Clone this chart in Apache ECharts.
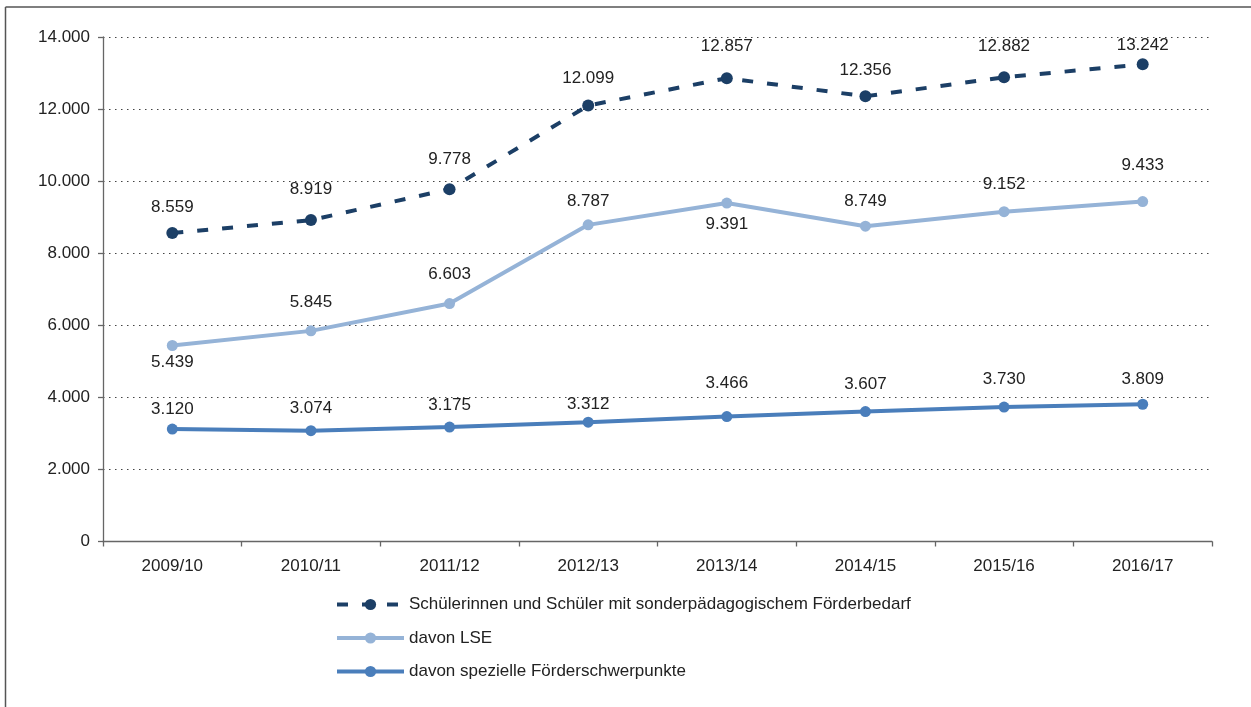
<!DOCTYPE html>
<html lang="de">
<head>
<meta charset="utf-8">
<title>Schülerinnen und Schüler mit sonderpädagogischem Förderbedarf</title>
<script src="https://cdn.jsdelivr.net/npm/echarts@6/dist/echarts.min.js"></script>
<style>
  html, body { margin: 0; padding: 0; background: #fff; }
  #chart { width: 1251px; height: 707px; }
</style>
</head>
<body>
<div id="chart"></div>
<script>
// Schuljahre
const schoolYears = ['2009/10', '2010/11', '2011/12', '2012/13', '2013/14', '2014/15', '2015/16', '2016/17'];

// Schülerzahlen je Schuljahr
const foerderbedarfGesamt = [8559, 8919, 9778, 12099, 12857, 12356, 12882, 13242];
const davonLSE = [5439, 5845, 6603, 8787, 9391, 8749, 9152, 9433];
const davonSpezielle = [3120, 3074, 3175, 3312, 3466, 3607, 3730, 3809];

const seriesNames = [
  'Schülerinnen und Schüler mit sonderpädagogischem Förderbedarf',
  'davon LSE',
  'davon spezielle Förderschwerpunkte'
];

// Werteachse
const yMin = 0, yMax = 14000, yStep = 2000;

// Abstand der Wertbeschriftung zur Punktmitte (positiv = oberhalb, negativ = unterhalb)
const labelRiseGesamt = [26, 31, 30, 27, 32, 26, 31, 19];
const labelRiseLSE = [-17, 29, 29, 24, -21, 25, 27, 36];
const labelRiseSpezielle = [20, 22, 22, 18, 33, 27, 28, 25];

const FONT = '"Liberation Sans", Arial, Helvetica, sans-serif';
const TEXT = '#222222';

const fmt = v => String(v).replace(/\B(?=(\d{3})+(?!\d))/g, '.');

function withLabels(values, rises) {
  return values.map((v, i) => ({
    value: v,
    label: { offset: [0, -rises[i]] }
  }));
}

function lineSeries(name, values, rises, color, lineType, symbolSize) {
  return {
    name: name,
    type: 'line',
    data: withLabels(values, rises),
    symbol: 'circle',
    symbolSize: symbolSize,
    itemStyle: { color: color },
    lineStyle: { color: color, width: 4, type: lineType, cap: 'butt' },
    label: {
      show: true,
      position: 'inside',
      formatter: p => fmt(p.value),
      color: TEXT,
      fontFamily: FONT,
      fontSize: 17
    },
    emphasis: { disabled: true },
    animation: false
  };
}

const chart = echarts.init(document.getElementById('chart'), null, { renderer: 'canvas' });

chart.setOption({
  backgroundColor: '#ffffff',
  textStyle: { fontFamily: FONT, color: TEXT },
  grid: { left: 103, right: 39, top: 37, bottom: 165.5, containLabel: false },
  xAxis: {
    type: 'category',
    data: schoolYears,
    boundaryGap: true,
    axisLine: { show: true, lineStyle: { color: '#666666', width: 1.3 } },
    axisTick: { show: true, inside: false, length: 5, interval: 0, lineStyle: { color: '#666666', width: 1.3 } },
    axisLabel: { margin: 16, fontSize: 17, color: TEXT, fontFamily: FONT, interval: 0 },
    splitLine: { show: false }
  },
  yAxis: {
    type: 'value',
    min: yMin,
    max: yMax,
    interval: yStep,
    axisLine: { show: true, lineStyle: { color: '#666666', width: 1.3 } },
    axisTick: { show: true, inside: false, length: 5, lineStyle: { color: '#666666', width: 1.3 } },
    axisLabel: { margin: 13, fontSize: 17, color: TEXT, fontFamily: FONT, formatter: v => fmt(v) },
    splitLine: { show: true, lineStyle: { color: '#444444', width: 1, type: [1.5, 4.5] } }
  },
  legend: {
    orient: 'vertical',
    left: 330,
    top: 591,
    itemWidth: 67,
    itemHeight: 14,
    itemGap: 16.5,
    lineStyle: { width: 4 },
    textStyle: { fontSize: 17, color: TEXT, fontFamily: FONT },
    data: seriesNames,
    selectedMode: false
  },
  graphic: [
    { type: 'line', shape: { x1: 5.5, y1: 7, x2: 5.5, y2: 707 }, style: { stroke: '#555555', lineWidth: 1.5 }, silent: true },
    { type: 'line', shape: { x1: 5.5, y1: 7, x2: 1251, y2: 7 }, style: { stroke: '#555555', lineWidth: 1.5 }, silent: true }
  ],
  series: [
    lineSeries(seriesNames[0], foerderbedarfGesamt, labelRiseGesamt, '#1c3f66', [11, 14], 12),
    lineSeries(seriesNames[1], davonLSE, labelRiseLSE, '#95b3d7', 'solid', 11),
    lineSeries(seriesNames[2], davonSpezielle, labelRiseSpezielle, '#4a7ebb', 'solid', 11)
  ]
});
</script>
</body>
</html>
